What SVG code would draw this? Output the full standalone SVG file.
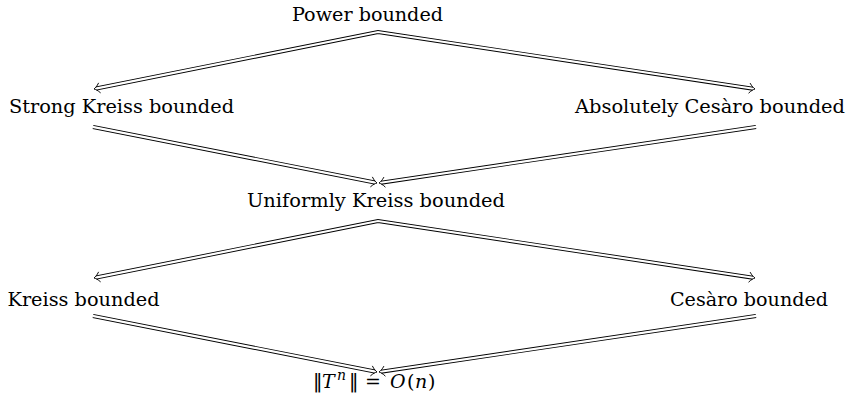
<svg xmlns="http://www.w3.org/2000/svg" xmlns:xlink="http://www.w3.org/1999/xlink" width="846" height="405" viewBox="0 0 846 405">
<style>
.o{stroke:#000;stroke-width:4;fill:none;stroke-linejoin:miter;stroke-miterlimit:20}
.i{stroke:#fff;stroke-width:2.2;fill:none;stroke-linejoin:miter;stroke-miterlimit:20}
.h{stroke:#000;stroke-width:0.9;fill:none;stroke-linecap:round;stroke-linejoin:round}
text{font-family:"DejaVu Serif","Liberation Serif",serif;font-size:19px;fill:#000}
.it{font-style:italic}
.nb{font-family:"DejaVu Sans","DejaVu Serif",sans-serif;font-style:normal}
</style>
<defs>
<path id="hd" class="h" d="M-5.5,-4.8 C-3.5,-2.2 -1.5,-0.6 0,0 C-1.5,0.6 -3.5,2.2 -5.5,4.8"/>
</defs>
<rect width="846" height="405" fill="#fff"/>
<g id="connectors">
  <g id="outer">
    <path class="o" d="M96.16,88.57 L378,32 L752.82,88.67"/>
    <path class="o" d="M93,127 L374.84,182.57"/>
    <path class="o" d="M756,127 L381.18,182.68"/>
    <path class="o" d="M96.16,277.57 L378,221 L752.82,277.67"/>
    <path class="o" d="M93,316 L374.84,371.57"/>
    <path class="o" d="M756,316 L381.18,371.68"/>
  </g>
  <g id="inner">
    <path class="i" d="M95.57,88.69 L378,32 L753.42,88.76"/>
    <path class="i" d="M92.51,126.9 L375.43,182.69"/>
    <path class="i" d="M756.49,126.93 L380.58,182.77"/>
    <path class="i" d="M95.57,277.69 L378,221 L753.42,277.76"/>
    <path class="i" d="M92.51,315.9 L375.43,371.69"/>
    <path class="i" d="M756.49,315.93 L380.58,371.77"/>
  </g>
  <g id="heads">
    <use xlink:href="#hd" transform="translate(94,89) rotate(168.65)"/>
    <use xlink:href="#hd" transform="translate(755,89) rotate(8.6)"/>
    <use xlink:href="#hd" transform="translate(377,183) rotate(11.15)"/>
    <use xlink:href="#hd" transform="translate(379,183) rotate(171.55)"/>
    <use xlink:href="#hd" transform="translate(94,278) rotate(168.65)"/>
    <use xlink:href="#hd" transform="translate(755,278) rotate(8.6)"/>
    <use xlink:href="#hd" transform="translate(377,372) rotate(11.15)"/>
    <use xlink:href="#hd" transform="translate(379,372) rotate(171.55)"/>
  </g>
</g>
<g id="power"><text x="292" y="21" textLength="151" lengthAdjust="spacingAndGlyphs">Power bounded</text></g>
<g id="strong-kreiss"><text x="9" y="113" textLength="225" lengthAdjust="spacingAndGlyphs">Strong Kreiss bounded</text></g>
<g id="abs-cesaro"><text x="575" y="113" textLength="270" lengthAdjust="spacingAndGlyphs">Absolutely Cesàro bounded</text></g>
<g id="uniform-kreiss"><text x="247" y="207" textLength="258" lengthAdjust="spacingAndGlyphs">Uniformly Kreiss bounded</text></g>
<g id="kreiss"><text x="7.5" y="306" textLength="152" lengthAdjust="spacingAndGlyphs">Kreiss bounded</text></g>
<g id="cesaro"><text x="670" y="306" textLength="158" lengthAdjust="spacingAndGlyphs">Cesàro bounded</text></g>
<g id="growth"><text y="388"><tspan class="nb" x="313">‖</tspan><tspan class="it" x="322">T</tspan><tspan class="it" font-size="14" x="337" y="380">n</tspan><tspan class="nb" x="349" y="388">‖</tspan><tspan x="365">=</tspan><tspan class="it" x="390">O</tspan><tspan x="407">(</tspan><tspan class="it" x="415">n</tspan><tspan x="428">)</tspan></text></g>
</svg>
